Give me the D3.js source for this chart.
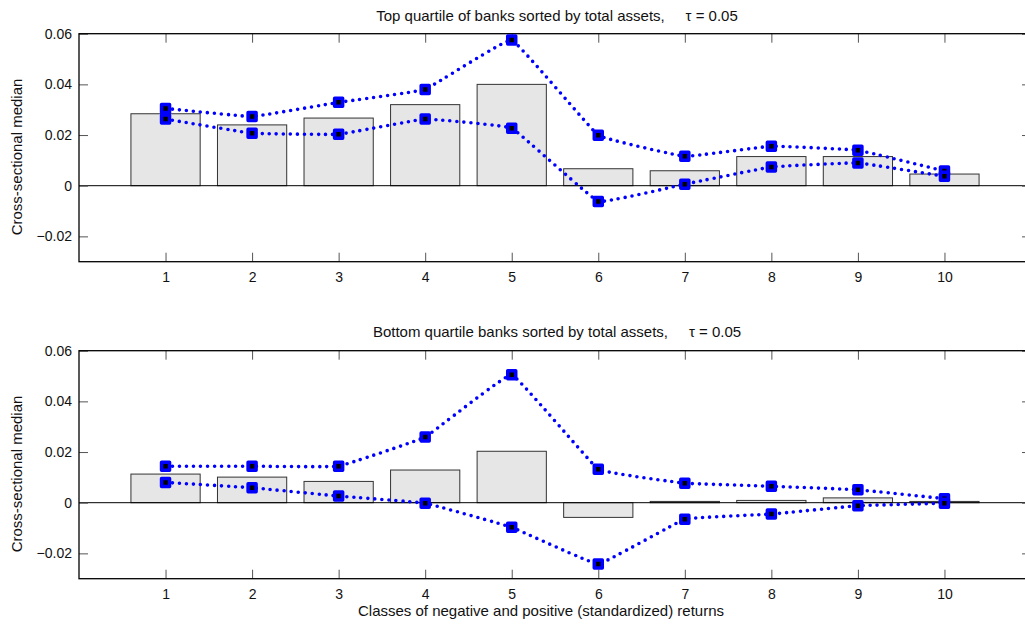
<!DOCTYPE html>
<html>
<head>
<meta charset="utf-8">
<script src="https://cdn.jsdelivr.net/npm/d3@7"></script>
<style>
  body { margin: 0; background: #fff; }
  svg { display: block; font-family: "Liberation Sans", Arial, sans-serif; }
</style>
</head>
<body>
<div id="chart"></div>
<script>
const width = 1025;
const height = 628;

const classes = [1, 2, 3, 4, 5, 6, 7, 8, 9, 10];
const yTicks = [-0.02, 0, 0.02, 0.04, 0.06];

// top quartile
const topBars = [0.0284, 0.0240, 0.0267, 0.0320, 0.0400, 0.0067, 0.0059, 0.0115, 0.0115, 0.0046];
const topUpper = [0.0305, 0.0273, 0.0329, 0.0380, 0.0575, 0.0199, 0.0116, 0.0156, 0.0140, 0.0058];
const topLower = [0.0263, 0.0207, 0.0203, 0.0263, 0.0227, -0.0062, 0.0006, 0.0074, 0.0090, 0.0037];

// bottom quartile
const botBars = [0.0113, 0.0101, 0.0084, 0.0129, 0.0203, -0.0058, 0.0005, 0.0009, 0.0019, 0.0005];
const botUpper = [0.0144, 0.0144, 0.0144, 0.0259, 0.0505, 0.0132, 0.0077, 0.0065, 0.0051, 0.0016];
const botLower = [0.0080, 0.0059, 0.0026, -0.0002, -0.0097, -0.0242, -0.0065, -0.0045, -0.0012, -0.0002];

const svg = d3.select('#chart').append('svg')
  .attr('width', width)
  .attr('height', height);

const x = d3.scaleLinear().domain([0, 11]).range([79, 1031]);

function panel(top, bottom, title, titleY, labelY, bars, upper, lower) {
  const y = d3.scaleLinear().domain([-0.03, 0.06]).range([bottom, top]);
  const g = svg.append('g');
  const bw = x(0.8) - x(0);

  // bars
  g.selectAll('rect.bar')
    .data(bars)
    .join('rect')
    .attr('class', 'bar')
    .attr('x', (d, i) => x(classes[i]) - bw / 2)
    .attr('y', d => y(Math.max(0, d)))
    .attr('width', bw)
    .attr('height', d => Math.abs(y(d) - y(0)))
    .attr('fill', '#e6e6e6')
    .attr('stroke', '#333')
    .attr('stroke-width', 1);

  // zero line
  g.append('line')
    .attr('x1', x(0)).attr('x2', x(11))
    .attr('y1', y(0)).attr('y2', y(0))
    .attr('stroke', '#000').attr('stroke-width', 1);

  // axes, ticks pointing inward
  const left = d3.axisLeft(y).tickValues(yTicks).tickSize(-9).tickPadding(7)
    .tickFormat(d => d === 0 ? '0' : d3.format('.2f')(d));
  const right = d3.axisRight(y).tickValues(yTicks).tickSize(-9).tickFormat('');
  const bottomAx = d3.axisBottom(x).tickValues(classes).tickSize(-9).tickPadding(10);
  const topAx = d3.axisTop(x).tickValues(classes).tickSize(-9).tickFormat('');

  g.append('g').attr('transform', `translate(${x(0)},0)`).call(left);
  g.append('g').attr('transform', `translate(${x(11)},0)`).call(right);
  g.append('g').attr('transform', `translate(0,${bottom})`).call(bottomAx);
  g.append('g').attr('transform', `translate(0,${top})`).call(topAx);

  g.selectAll('.domain').remove();
  g.selectAll('.tick line').attr('stroke', '#555');
  g.selectAll('.tick text').attr('font-size', 14).attr('fill', '#111')
    .attr('font-family', '"Liberation Sans", Arial, sans-serif');

  g.append('rect')
    .attr('x', x(0)).attr('y', top)
    .attr('width', x(11) - x(0)).attr('height', bottom - top)
    .attr('fill', 'none').attr('stroke', '#000').attr('stroke-width', 1.3);

  // dotted lines
  const line = d3.line()
    .x((d, i) => x(classes[i]))
    .y(d => y(d))
    .curve(d3.curveCardinal.tension(0.8));

  [upper, lower].forEach(series => {
    g.append('path')
      .attr('d', line(series))
      .attr('fill', 'none')
      .attr('stroke', '#0000ff')
      .attr('stroke-width', 3.6)
      .attr('stroke-linecap', 'round')
      .attr('stroke-dasharray', '0 7');
  });

  [upper, lower].forEach(series => {
    g.selectAll(null)
      .data(series)
      .join('rect')
      .attr('x', (d, i) => x(classes[i]) - 4)
      .attr('y', d => y(d) - 4)
      .attr('width', 8)
      .attr('height', 8)
      .attr('fill', '#000')
      .attr('stroke', '#0000ff')
      .attr('stroke-width', 3.5)
      .attr('stroke-linejoin', 'round');
  });

  svg.append('text')
    .attr('x', 557).attr('y', titleY)
    .attr('text-anchor', 'middle')
    .attr('font-size', 15)
    .attr('fill', '#111')
    .attr('xml:space', 'preserve')
    .text(title);

  svg.append('text')
    .attr('transform', `translate(22,${labelY}) rotate(-90)`)
    .attr('text-anchor', 'middle')
    .attr('font-size', 15)
    .attr('fill', '#111')
    .text('Cross-sectional median');
}

panel(33.7, 261.7, 'Top quartile of banks sorted by total assets,     \u03c4 = 0.05', 20.5, 157, topBars, topUpper, topLower);
panel(350.7, 578.7, 'Bottom quartile banks sorted by total assets,     \u03c4 = 0.05', 337, 474, botBars, botUpper, botLower);

svg.append('text')
  .attr('x', 541).attr('y', 616)
  .attr('text-anchor', 'middle')
  .attr('font-size', 15)
  .attr('fill', '#111')
  .text('Classes of negative and positive (standardized) returns');
</script>
</body>
</html>
